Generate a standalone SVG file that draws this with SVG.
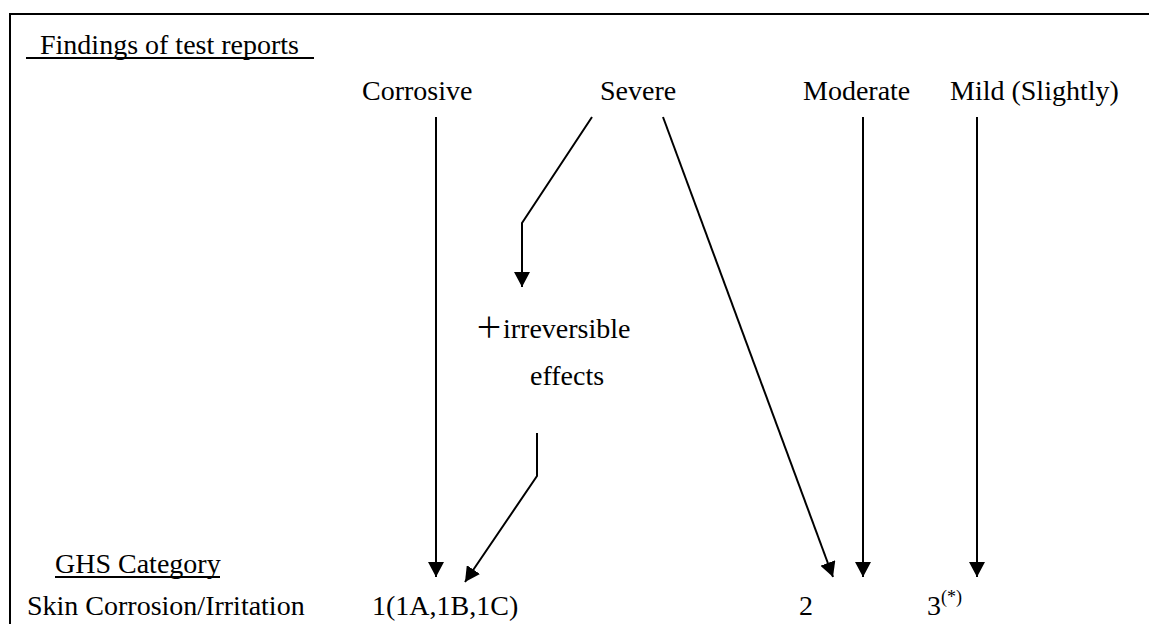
<svg xmlns="http://www.w3.org/2000/svg" width="1149" height="624" viewBox="0 0 1149 624">
<defs>
<style>
text{font-family:"Liberation Serif","Times New Roman","Noto Sans CJK JP",serif;font-size:28px;fill:#000}
.ln{fill:none;stroke:#000;stroke-width:2}
.frame{fill:none;stroke:#000;stroke-width:2}
</style>
<marker id="ah" markerUnits="userSpaceOnUse" markerWidth="16" markerHeight="16" refX="15" refY="8" orient="auto" viewBox="0 0 16 16">
<path d="M0,0 L15,8 L0,16 Z" fill="#000"/>
</marker>
</defs>
<rect width="1149" height="624" fill="#fff"/>
<path class="frame" d="M10,624 L10,14 L1149,14"/>
<g id="header-findings">
<text x="40" y="54">Findings of test reports</text>
<line x1="26" y1="58" x2="314" y2="58" stroke="#000" stroke-width="1.8"/>
</g>
<g id="node-corrosive"><text x="362" y="100">Corrosive</text></g>
<g id="node-severe"><text x="600" y="100">Severe</text></g>
<g id="node-moderate"><text x="803" y="100">Moderate</text></g>
<g id="node-mild"><text x="950" y="100">Mild (Slightly)</text></g>
<g id="node-irreversible">
<text x="475" y="338">＋irreversible</text>
<text x="530" y="385">effects</text>
</g>
<g id="header-ghs">
<text x="55" y="573">GHS Category</text>
<line x1="55" y1="577" x2="220" y2="577" stroke="#000" stroke-width="1.8"/>
</g>
<g id="node-skin"><text x="27" y="615">Skin Corrosion/Irritation</text></g>
<g id="node-cat1"><text x="372" y="615">1(1A,1B,1C)</text></g>
<g id="node-cat2"><text x="799" y="615">2</text></g>
<g id="node-cat3"><text x="927" y="615">3<tspan font-size="18" dy="-12">(*)</tspan></text></g>
<g id="connectors">
<path class="ln" marker-end="url(#ah)" d="M436,117 L436,577"/>
<path class="ln" marker-end="url(#ah)" d="M592,117 L522,223 L522,287"/>
<path class="ln" marker-end="url(#ah)" d="M537,433 L537,476 L465,582"/>
<path class="ln" marker-end="url(#ah)" d="M663,117 L833,577"/>
<path class="ln" marker-end="url(#ah)" d="M863,117 L863,577"/>
<path class="ln" marker-end="url(#ah)" d="M977,117 L977,577"/>
</g>
</svg>
